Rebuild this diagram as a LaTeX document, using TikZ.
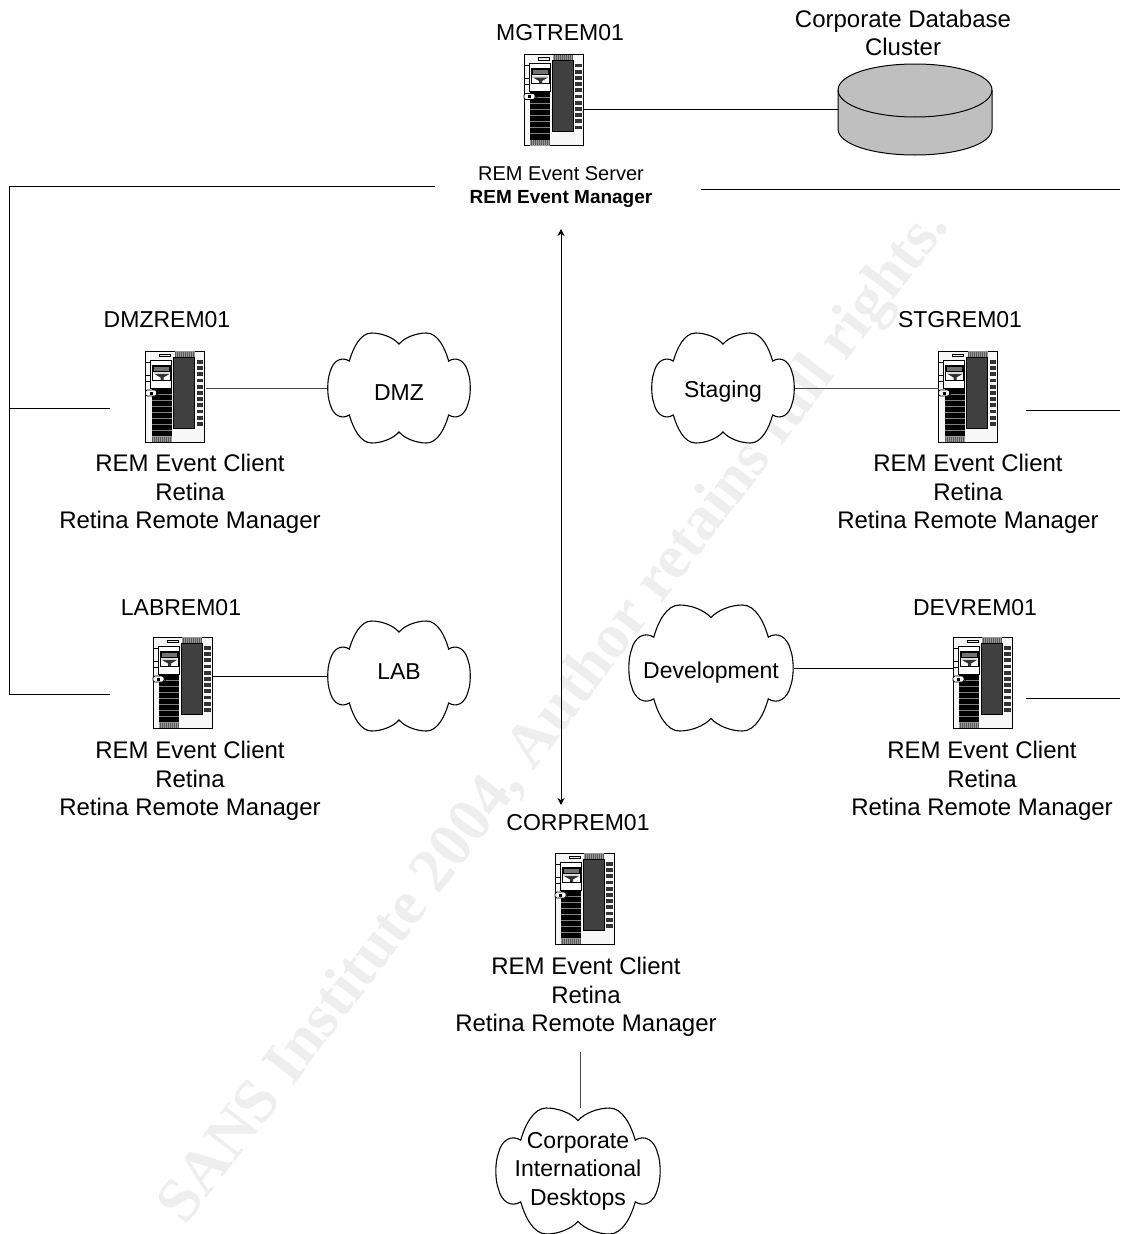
\documentclass[tikz,border=0pt]{standalone}
\usepackage{fontspec}
\setmainfont{Liberation Sans}
\newfontfamily\wmfont{Liberation Serif}
\usetikzlibrary{arrows.meta}
\definecolor{wmgray}{gray}{0.935}
\tikzset{
  every picture/.style={line width=1pt},
  wire/.style={draw=black,line width=1pt},
  softwire/.style={draw=black!72,line width=1pt},
  srvbox/.style={minimum width=60pt,minimum height=92pt,inner sep=0pt,outer sep=0pt},
  cloudbox/.style={align=center,inner sep=0pt,outer sep=0pt,font=\fontsize{23}{28.5}\selectfont},
  title/.style={font=\fontsize{23}{28}\selectfont,inner sep=0pt},
  desc/.style={align=center,font=\fontsize{24}{28.5}\selectfont,inner sep=0pt},
  descsmall/.style={align=center,font=\fontsize{20}{23}\selectfont,inner sep=0pt},
  pics/server/.style={code={
    \begin{scope}[shift={(-30,-46)}]
      \draw[fill=black!3,line width=.9pt] (0,0) rectangle (59,91);
      \fill[black!40] (29,0) rectangle (49,6);
      \foreach \x in {30,32,...,48} \draw[black!65,line width=.5pt] (\x,0.5) -- (\x,5.5);
      \draw[fill=black!75,line width=.9pt] (28,6) rectangle (49,77);
      \foreach \y in {9,15.2,...,72} {
        \fill[black!80] (51,\y) rectangle (57.5,\y+3.8);
      }
      \draw[fill=white,line width=.8pt] (5,9) rectangle (26,37);
      \draw[fill=black!8,line width=.6pt] (14,3) rectangle (25,5.5);
      \draw[line width=.7pt] (0,11) -- (5,11) (0,24) -- (5,24) (0,30) -- (5,30);
      \draw[line width=.7pt] (7,14) rectangle (25,29);
      \draw[fill=black!55,line width=.7pt] (8,15) rectangle (24,20);
      \fill[black!15] (8,21) rectangle (24,23);
      \fill[black!80] (9,23) -- (24,23) -- (18,26.5) -- (18,29) -- (15,29) -- (15,26.5) -- cycle;
      \fill[black] (6,37) rectangle (26,85);
      \foreach \y in {43,49,...,80} \draw[black!50,line width=.5pt] (6,\y) -- (26,\y);
      \fill[black!40] (6,85) rectangle (26,91);
      \foreach \x in {7,9,...,25} \draw[black!65,line width=.5pt] (\x,85.5) -- (\x,90.5);
      \draw[fill=white,line width=.8pt,rounded corners=2pt] (0,39) rectangle (11,45);
      \draw[line width=.6pt] (11,38.5) .. controls (13,40) and (13,44) .. (11,45.5);
      \fill[black] (4,40.5) rectangle (7,43.5);
    \end{scope}
  }},
}
\newcommand{\cloudpath}{
  (0,.80) .. controls (-.08,.92) and (-.24,1) .. (-.38,1)
  .. controls (-.54,1) and (-.64,.72) .. (-.69,.49)
  .. controls (-.8,.58) and (-.92,.5) .. (-.96,.28)
  .. controls (-1,.14) and (-1,-.14) .. (-.96,-.28)
  .. controls (-.92,-.5) and (-.8,-.58) .. (-.69,-.49)
  .. controls (-.64,-.72) and (-.54,-1) .. (-.38,-1)
  .. controls (-.24,-1) and (-.08,-.92) .. (0,-.80)
  .. controls (.08,-.92) and (.24,-1) .. (.38,-1)
  .. controls (.54,-1) and (.64,-.72) .. (.69,-.49)
  .. controls (.8,-.58) and (.92,-.5) .. (.96,-.28)
  .. controls (1,-.14) and (1,.14) .. (.96,.28)
  .. controls (.92,.5) and (.8,.58) .. (.69,.49)
  .. controls (.64,.72) and (.54,1) .. (.38,1)
  .. controls (.24,1) and (.08,.92) .. (0,.80) -- cycle}
% name, cx, cy, half width, half height, text y, text
\newcommand{\cloudat}[7]{%
  \draw[fill=white,line width=1.1pt,shift={(#2,#3)},x=#4pt,y=#5pt] \cloudpath;
  \node[cloudbox,minimum width=2*#4 pt,minimum height=2*#5 pt] (#1) at (#2,#3) {};
  \node[cloudbox] (#1t) at (#2,#6) {#7};
}
\begin{document}
\begin{tikzpicture}[x=1pt,y=-1pt]
\useasboundingbox (0,0) rectangle (1120,1234);
% watermark
\node[rotate=52.6,text=wmgray,font=\wmfont\bfseries\fontsize{62.5}{62.5}\selectfont,inner sep=0pt] (wm) at (556,717)
  {SANS Institute 2004, Author retains full rights.};

% servers
\node[srvbox] (mgt) at (554,100.5) {};
\node[srvbox] (dmz) at (175.5,397) {};
\node[srvbox] (stg) at (968.5,397) {};
\node[srvbox] (lab) at (183,683) {};
\node[srvbox] (dev) at (983,683) {};
\node[srvbox] (corp) at (585,899) {};

% database
\coordinate (dbw) at (838,109.5);
\node[inner sep=0pt,minimum width=154pt,minimum height=91pt] (db) at (915,109.5) {};
\draw[fill=black!25,line width=1pt] (838,90) -- (838,129)
  .. controls (838,144) and (872,155) .. (915,155)
  .. controls (958,155) and (992,144) .. (992,129) -- (992,90)
  .. controls (992,75) and (958,64) .. (915,64)
  .. controls (872,64) and (838,75) .. (838,90) -- cycle;
\draw[line width=1pt] (838,90) .. controls (838,105) and (872,117) .. (915,117)
  .. controls (958,117) and (992,105) .. (992,90);

% clouds
\cloudat{cdmz}{399}{388}{72}{55}{393}{DMZ}
\cloudat{cstg}{723}{388}{72}{55}{392}{Staging}
\cloudat{clab}{399}{676}{72}{55}{672}{LAB}
\cloudat{cdev}{711}{668}{83}{63}{673}{Development}
\cloudat{ccorp}{578}{1171}{83}{63}{1171}{Corporate\\International\\Desktops}

% pics
\foreach \n in {mgt,dmz,stg,lab,dev,corp} \pic at (\n) {server};

% labels
\node[title] (tmgt) at (560,33) {MGTREM01};
\node[title] (tdmz) at (167,320) {DMZREM01};
\node[title] (tstg) at (960,320) {STGREM01};
\node[title] (tlab) at (181,608) {LABREM01};
\node[title] (tdev) at (975,608) {DEVREM01};
\node[title] (tcorp) at (578,823) {CORPREM01};
\node[desc] (ldb) at (903,33) {Corporate Database\\Cluster};
\node[descsmall] (lmgt) at (561,187) {REM Event Server\\{\bfseries\fontsize{19}{23}\selectfont REM Event Manager}};
\node[desc] (ldmz) at (190,494) {REM Event Client\\Retina\\Retina Remote Manager};
\node[desc] (lstg) at (968,494) {REM Event Client\\Retina\\Retina Remote Manager};
\node[desc] (llab) at (190,781) {REM Event Client\\Retina\\Retina Remote Manager};
\node[desc] (ldev) at (982,781) {REM Event Client\\Retina\\Retina Remote Manager};
\node[desc] (lcorp) at (586,997) {REM Event Client\\Retina\\Retina Remote Manager};

% free ends
\coordinate (busT) at (9,186);
\coordinate (busB) at (9,694);
\coordinate (busM) at (9,408);
\coordinate (busTe) at (435,186);
\coordinate (busMe) at (110,408);
\coordinate (busBe) at (110,694);
\coordinate (rT) at (701,189);
\coordinate (rTe) at (1120,189);
\coordinate (rM) at (1026,410);
\coordinate (rMe) at (1120,410);
\coordinate (rB) at (1026,698);
\coordinate (rBe) at (1120,698);
\coordinate (arT) at (561,229);
\coordinate (arB) at (561,805);
\coordinate (corpEnd) at (580,1052);

% connectors
\draw[wire] (busTe) -- (busT) -- (busB) -- (busBe);
\draw[wire] (busM) -- (busMe);
\draw[wire] (rT) -- (rTe);
\draw[wire] (rM) -- (rMe);
\draw[wire] (rB) -- (rBe);
\draw[wire,{Stealth[length=7pt,width=7pt]}-{Stealth[length=7pt,width=7pt]}] (arT) -- (arB);
\draw[wire] (mgt.east |- dbw) -- (dbw);
\draw[softwire] (dmz.east |- cdmz.west) -- (cdmz.west);
\draw[softwire] (cstg.east) -- (cstg.east -| stg.west);
\draw[wire] (lab.east |- clab.west) -- (clab.west);
\draw[wire] (cdev.east) -- (cdev.east -| dev.west);
\draw[softwire] (corpEnd) -- (corpEnd |- ccorp.north);
\end{tikzpicture}
\end{document}
